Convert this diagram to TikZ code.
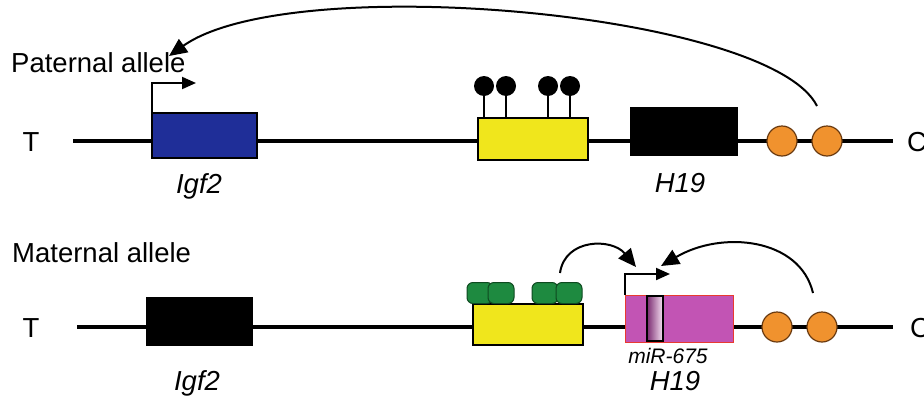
\documentclass[tikz,border=0pt]{standalone}
\usepackage{fontspec}
\setmainfont{Liberation Sans}
\usetikzlibrary{arrows.meta,shadings}
\definecolor{igfblue}{HTML}{1F2E98}
\definecolor{icryellow}{HTML}{F0E61C}
\definecolor{orb}{HTML}{F0922E}
\definecolor{orbline}{HTML}{6A3A10}
\definecolor{grn}{HTML}{1E8A40}
\definecolor{grnline}{HTML}{0E4A20}
\definecolor{mag}{HTML}{C254B4}
\definecolor{magline}{HTML}{E83A30}
\definecolor{mirdark}{HTML}{7A2A70}
\definecolor{mirlight}{HTML}{F8E4F4}
\begin{document}
\begin{tikzpicture}[x=1pt,y=-1pt,
  lbl/.style={font=\fontsize{27.5}{32}\selectfont, inner sep=0pt},
  ilbl/.style={font=\fontsize{27.5}{32}\selectfont\itshape, inner sep=0pt},
  dna/.style={line width=4.5pt},
  genebox/.style={draw=black, line width=1.2pt, inner sep=0pt, outer sep=0pt},
  orbnode/.style={circle, draw=orbline, line width=1.2pt, fill=orb, minimum size=30pt, inner sep=0pt},
  lolly/.style={circle, fill=black, minimum size=20pt, inner sep=0pt},
  stem/.style={line width=2.5pt},
  grnnode/.style={draw=grnline, line width=1pt, fill=grn, rounded corners=6pt, minimum width=26pt, minimum height=21pt, inner sep=0pt},
  prom/.style={line width=2pt, -{Triangle[length=14pt,width=12pt]}},
  curvearr/.style={line width=2pt, -{Triangle[length=18pt,width=16pt]}}
]
\useasboundingbox (0,0) rectangle (924,402);
\fill[white] (0,0) rectangle (924,402);

% ---------- paternal allele ----------
\node[lbl, anchor=base west] (pat) at (11,72) {Paternal allele};
\node[lbl, anchor=base] (T1) at (31,151) {T};
\node[lbl, anchor=base west] (C1) at (907,151) {C};
\coordinate (L1s) at (73,141);
\coordinate (L1e) at (893,141);
\draw[dna] (L1s) -- (L1e);

\node[genebox, fill=igfblue, minimum width=105pt, minimum height=45pt] (igfP) at (204.5,135.5) {};
\node[genebox, fill=icryellow, minimum width=110pt, minimum height=42pt] (icrP) at (533,139) {};
\node[genebox, fill=black, minimum width=106pt, minimum height=47pt] (h19P) at (684,131.5) {};
\node[orbnode] (oP1) at (782,141) {};
\node[orbnode] (oP2) at (827,141) {};

\node[lolly] (m1) at (484,86) {};
\node[lolly] (m2) at (506,86) {};
\node[lolly] (m3) at (548,86) {};
\node[lolly] (m4) at (570,86) {};
\foreach \m in {m1,m2,m3,m4}{\draw[stem] (\m.center) -- (\m |- icrP.north);}

\draw[prom] (igfP.north west) -- ++(0,-30) -- ++(44,0) coordinate (promPend);

\node[ilbl, anchor=base] (igfPl) at (199,193) {Igf2};
\node[ilbl, anchor=base] (h19Pl) at (680,192) {H19};

\coordinate (arcS) at (817,106);
\coordinate (arcE) at (169,56);
\draw[curvearr] (arcS) .. controls (770,12) and (290,-30) .. (arcE);

% ---------- maternal allele ----------
\node[lbl, anchor=base west] (mat) at (12,262) {Maternal allele};
\node[lbl, anchor=base] (T2) at (31,337) {T};
\node[lbl, anchor=base west] (C2) at (910,337) {C};
\coordinate (L2s) at (77,327);
\coordinate (L2e) at (893,327);
\draw[dna] (L2s) -- (L2e);

\node[genebox, fill=black, minimum width=105pt, minimum height=47pt] (igfM) at (199.5,321.5) {};
\node[genebox, fill=icryellow, minimum width=110pt, minimum height=41pt] (icrM) at (528,324.5) {};

\node[grnnode] (g1) at (480,293) {};
\node[grnnode] (g2) at (501,293) {};
\node[grnnode] (g3) at (545,293) {};
\node[grnnode] (g4) at (569,293) {};

\node[draw=magline, line width=1pt, fill=mag, minimum width=108pt, minimum height=47pt, inner sep=0pt, outer sep=0pt] (h19M) at (679,318.5) {};
\node[draw=black, line width=1.2pt, left color=mirdark, right color=mirlight, minimum width=16pt, minimum height=45pt, inner sep=0pt] (mir) at (655,318.5) {};

\draw[prom] (h19M.north west) -- ++(0,-21) -- ++(45,0) coordinate (promMend);

\node[font=\fontsize{21}{25}\selectfont\itshape, inner sep=0pt, anchor=base] (mirl) at (668,363) {miR-675};
\node[ilbl, anchor=base] (h19Ml) at (675,390) {H19};
\node[ilbl, anchor=base] (igfMl) at (197,390) {Igf2};

\node[orbnode] (oM1) at (777,327) {};
\node[orbnode] (oM2) at (822,327) {};

\coordinate (aS) at (560,273);
\coordinate (aE) at (636,267);
\draw[curvearr] (aS) .. controls (565,238) and (612,238) .. (aE);
\coordinate (bS) at (813,293);
\coordinate (bE) at (661,266);
\draw[curvearr] (bS) .. controls (800,238) and (722,230) .. (bE);
\end{tikzpicture}
\end{document}
